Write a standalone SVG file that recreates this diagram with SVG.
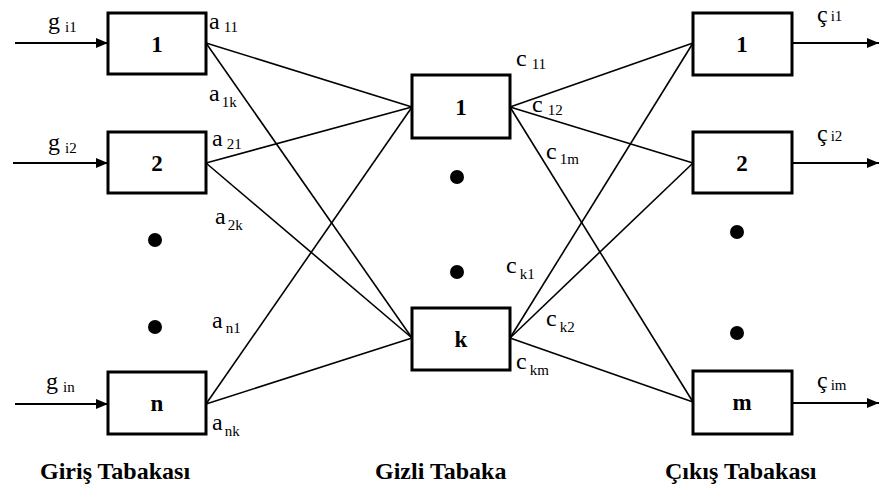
<svg xmlns="http://www.w3.org/2000/svg" width="879" height="491" viewBox="0 0 879 491">
  <style>
    .box { fill: #fff; stroke: #000; stroke-width: 3; }
    .num { font-family: "Liberation Serif", "Times New Roman", "DejaVu Serif", serif; font-weight: bold; font-size: 23px; text-anchor: middle; fill: #000; }
    .lbl { font-family: "Liberation Serif", "Times New Roman", "DejaVu Serif", serif; font-size: 24px; fill: #000; }
    .sub { font-size: 15px; }
    .title { font-family: "Liberation Serif", "Times New Roman", "DejaVu Serif", serif; font-weight: bold; font-size: 24px; fill: #000; }
    .wire { stroke: #000; stroke-width: 1.6; fill: none; }
    .io { stroke: #000; stroke-width: 2; fill: none; marker-end: url(#arrow); }
  </style>
  <defs>
    <marker id="arrow" viewBox="0 0 12 10" refX="12" refY="5" markerWidth="12" markerHeight="10" markerUnits="userSpaceOnUse" orient="auto">
      <path d="M0,0 L12,5 L0,10 z" fill="#000"/>
    </marker>
  </defs>

  <!-- connectors -->
  <g id="connectors">
    <!-- input arrows -->
    <line class="io" x1="15" y1="43" x2="108" y2="43"/>
    <line class="io" x1="13" y1="163" x2="108" y2="163"/>
    <line class="io" x1="15" y1="404" x2="108" y2="404"/>
    <!-- input to hidden -->
    <line class="wire" x1="206" y1="43" x2="412" y2="107"/>
    <line class="wire" x1="206" y1="43" x2="412" y2="338"/>
    <line class="wire" x1="206" y1="163" x2="412" y2="107"/>
    <line class="wire" x1="206" y1="163" x2="412" y2="338"/>
    <line class="wire" x1="206" y1="404" x2="412" y2="107"/>
    <line class="wire" x1="206" y1="404" x2="412" y2="338"/>
    <!-- hidden to output -->
    <line class="wire" x1="510" y1="107" x2="693" y2="43"/>
    <line class="wire" x1="510" y1="107" x2="693" y2="163"/>
    <line class="wire" x1="510" y1="107" x2="693" y2="402"/>
    <line class="wire" x1="510" y1="338" x2="693" y2="43"/>
    <line class="wire" x1="510" y1="338" x2="693" y2="163"/>
    <line class="wire" x1="510" y1="338" x2="693" y2="402"/>
    <!-- output arrows -->
    <line class="io" x1="792" y1="43" x2="879" y2="43"/>
    <line class="io" x1="792" y1="163" x2="879" y2="163"/>
    <line class="io" x1="792" y1="403" x2="879" y2="403"/>
  </g>

  <!-- input layer -->
  <g id="in1"><rect class="box" x="108" y="13" width="98" height="61"/><text class="num" x="157" y="52">1</text></g>
  <g id="in2"><rect class="box" x="108" y="132" width="98" height="61"/><text class="num" x="157" y="171">2</text></g>
  <g id="inN"><rect class="box" x="108" y="372" width="98" height="62"/><text class="num" x="157" y="411">n</text></g>

  <!-- hidden layer -->
  <g id="hid1"><rect class="box" x="412" y="75" width="98" height="63"/><text class="num" x="461" y="115">1</text></g>
  <g id="hidK"><rect class="box" x="412" y="308" width="98" height="62"/><text class="num" x="461" y="347">k</text></g>

  <!-- output layer -->
  <g id="out1"><rect class="box" x="693" y="13" width="99" height="62"/><text class="num" x="742" y="52">1</text></g>
  <g id="out2"><rect class="box" x="693" y="132" width="99" height="61"/><text class="num" x="742" y="171">2</text></g>
  <g id="outM"><rect class="box" x="693" y="371" width="99" height="63"/><text class="num" x="742" y="410">m</text></g>

  <!-- ellipsis dots -->
  <g id="dots" fill="#000">
    <circle cx="155" cy="240" r="7"/>
    <circle cx="155" cy="327" r="7"/>
    <circle cx="457" cy="177" r="7"/>
    <circle cx="457" cy="272" r="7"/>
    <circle cx="737" cy="232" r="7"/>
    <circle cx="737" cy="333" r="7"/>
  </g>

  <!-- weight and signal labels -->
  <g id="labels">
    <text class="lbl" x="48" y="29">g<tspan class="sub" dx="5" dy="3">i1</tspan></text>
    <text class="lbl" x="48" y="150">g<tspan class="sub" dx="5" dy="3">i2</tspan></text>
    <text class="lbl" x="46" y="389">g<tspan class="sub" dx="5" dy="3">in</tspan></text>

    <text class="lbl" x="209" y="29">a<tspan class="sub" dx="4" dy="3">11</tspan></text>
    <text class="lbl" x="209" y="101">a<tspan class="sub" dx="2" dy="6">1k</tspan></text>
    <text class="lbl" x="212" y="146">a<tspan class="sub" dx="4" dy="3">21</tspan></text>
    <text class="lbl" x="215" y="224">a<tspan class="sub" dx="2" dy="6">2k</tspan></text>
    <text class="lbl" x="212" y="328">a<tspan class="sub" dx="3" dy="5">n1</tspan></text>
    <text class="lbl" x="212" y="430">a<tspan class="sub" dx="2" dy="6">nk</tspan></text>

    <text class="lbl" x="516" y="66">c<tspan class="sub" dx="5" dy="3">11</tspan></text>
    <text class="lbl" x="532" y="112">c<tspan class="sub" dx="5" dy="3">12</tspan></text>
    <text class="lbl" x="546" y="159">c<tspan class="sub" dx="3" dy="5">1m</tspan></text>
    <text class="lbl" x="506" y="273">c<tspan class="sub" dx="3" dy="6">k1</tspan></text>
    <text class="lbl" x="546" y="326">c<tspan class="sub" dx="3" dy="6">k2</tspan></text>
    <text class="lbl" x="516" y="369">c<tspan class="sub" dx="3" dy="6">km</tspan></text>

    <text class="lbl" x="817" y="22">ç<tspan class="sub" dx="3" dy="-1">i1</tspan></text>
    <text class="lbl" x="817" y="141">ç<tspan class="sub" dx="3" dy="0">i2</tspan></text>
    <text class="lbl" x="817" y="388">ç<tspan class="sub" dx="3" dy="2">im</tspan></text>
  </g>

  <!-- layer titles -->
  <g id="titles">
    <text class="title" x="40" y="479">Giriş Tabakası</text>
    <text class="title" x="375" y="479">Gizli Tabaka</text>
    <text class="title" x="665" y="479">Çıkış Tabakası</text>
  </g>
</svg>
